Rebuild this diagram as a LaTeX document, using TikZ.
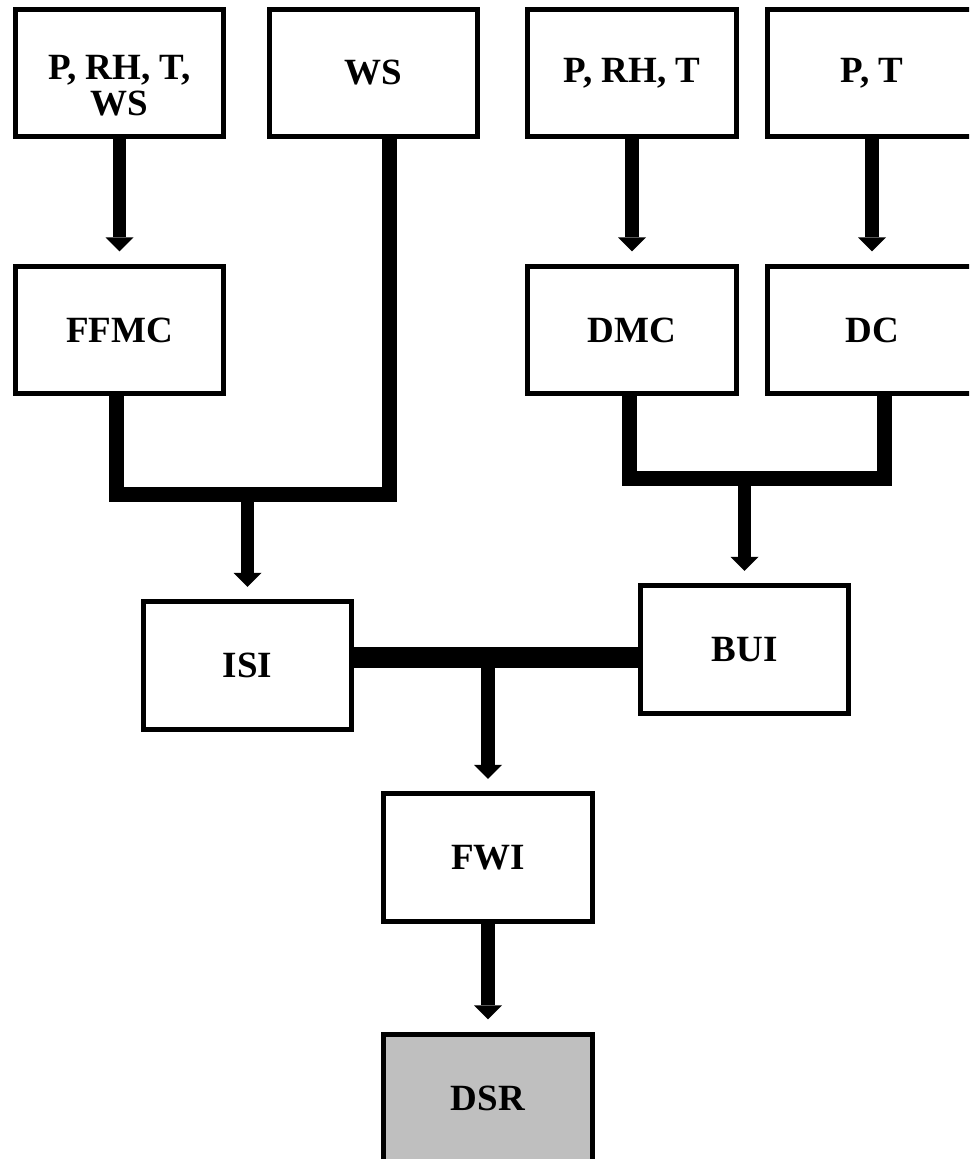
\documentclass[tikz,border=0pt]{standalone}
\usepackage{fontspec}
\setmainfont{Liberation Serif}
\usetikzlibrary{arrows.meta}
\definecolor{dsrgray}{RGB}{191,191,191}
\begin{document}
\begin{tikzpicture}[x=1pt,y=1pt,
  box/.style={draw=black, line width=4.6pt, minimum width=208.5pt, minimum height=127.5pt,
    inner sep=0pt, align=center, font=\fontsize{37}{36}\selectfont\bfseries},
  arr/.style={line width=13.5pt, -{Triangle[width=28pt,length=14pt,line width=0pt]}, shorten >=12.5pt},
  conn/.style={line width=15pt, line join=miter},
  bar/.style={line width=21pt}]
\useasboundingbox (0,0) rectangle (969,-1159);
\clip (0,0) rectangle (969,-1159);
\fill[white] (0,0) rectangle (969,-1159);
% nodes
\node[box] (in1) at (119.5,-73) {\rule{0pt}{49pt}P, RH, T,\\WS};
\node[box] (in2) at (373.5,-73) {WS};
\node[box] (in3) at (632,-73) {P, RH, T};
\node[box] (in4) at (872,-73) {P, T};
\node[box] (ffmc) at (119.5,-330) {FFMC};
\node[box] (dmc) at (632,-330) {DMC};
\node[box] (dc) at (872,-330) {DC};
\node[box] (isi) at (247.5,-665.5) {ISI};
\node[box] (bui) at (744.5,-649.5) {BUI};
\node[box] (fwi) at (488,-857.5) {FWI};
\node[box, fill=dsrgray] (dsr) at (488,-1098) {DSR};
% junctions
\coordinate (j1) at (247.5,-494.5);
\coordinate (j2) at (744.5,-478.5);
\coordinate (j3) at (488,-657.5);
% connectors
\draw[arr] (in1) -- (ffmc);
\draw[arr] (in3) -- (dmc);
\draw[arr] (in4) -- (dc);
\draw[conn] ([xshift=-3pt]ffmc.south) |- (j1) -| ([xshift=15.5pt]in2.south);
\draw[conn] ([xshift=-3pt]dmc.south) |- (j2) -| ([xshift=12pt]dc.south);
\draw[arr] ([yshift=-7pt]j1) -- (isi);
\draw[arr] ([yshift=-7pt]j2) -- (bui);
\draw[bar] (isi.east |- j3) -- (bui.west |- j3);
\draw[arr] (j3) -- (fwi);
\draw[arr] (fwi) -- (dsr);
\end{tikzpicture}
\end{document}
